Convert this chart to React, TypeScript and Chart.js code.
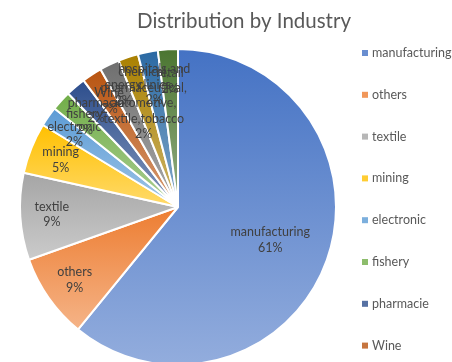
import React, { useEffect, useRef } from 'react';
import { Chart, registerables } from 'chart.js';

Chart.register(...registerables);

const chartTitle = 'Distribution by Industry';
const categories = [
  'manufacturing',
  'others',
  'textile',
  'mining',
  'electronic',
  'fishery',
  'pharmacie',
  'Wine',
  'energy',
  'chemical, pharmaceutical, automotive, textile,tobacco',
  'hospitals and clinics',
  'retail',
];
const values = [60.9, 8.7, 8.9, 5.2, 2.04, 2.04, 2.04, 2.04, 2.04, 2.04, 2.04, 2.04];
const baseColors = [
  '#4472C4',
  '#ED7D31',
  '#A5A5A5',
  '#FFC000',
  '#5B9BD5',
  '#70AD47',
  '#2C4D8C',
  '#B8530F',
  '#6E6E6E',
  '#A98000',
  '#2A69A3',
  '#4A7530',
];

const FONT = 'Lato, "Open Sans", sans-serif';

function mixWhite(hex: string, t: number): string {
  const n = parseInt(hex.slice(1), 16);
  const r = (n >> 16) & 255;
  const g = (n >> 8) & 255;
  const b = n & 255;
  const f = (c: number) => Math.round(c + (255 - c) * t);
  return `rgb(${f(r)},${f(g)},${f(b)})`;
}

export default function App() {
  const ref = useRef<HTMLCanvasElement>(null);

  useEffect(() => {
    const canvas = ref.current;
    if (!canvas) return;
    const total = values.reduce((a, b) => a + b, 0);

    const sectorYRange = (chart: any, i: number) => {
      const area = chart.chartArea;
      const cx = (area.left + area.right) / 2;
      const cy = (area.top + area.bottom) / 2;
      const R = Math.min(area.right - area.left, area.bottom - area.top) / 2;
      let cum = 0;
      for (let k = 0; k < i; k++) cum += values[k];
      const a0 = -Math.PI / 2 + (cum / total) * Math.PI * 2;
      const a1 = a0 + (values[i] / total) * Math.PI * 2;
      const ys = [cy, cy + R * Math.sin(a0), cy + R * Math.sin(a1)];
      for (let k = -1; k <= 4; k++) {
        const t = -Math.PI / 2 + k * Math.PI;
        if (t > a0 && t < a1) ys.push(cy + R * Math.sin(t));
      }
      return [Math.min(...ys), Math.max(...ys)];
    };

    const bg = (ctx: any) => {
      const i = ctx.dataIndex ?? 0;
      const chart = ctx.chart;
      const area = chart.chartArea;
      if (!area) return baseColors[i];
      const [y0, y1] = sectorYRange(chart, i);
      const g = chart.ctx.createLinearGradient(0, y0, 0, Math.max(y1, y0 + 1));
      g.addColorStop(0, mixWhite(baseColors[i], 0.0));
      g.addColorStop(1, mixWhite(baseColors[i], 0.42));
      return g;
    };

    const decor = {
      id: 'excelDecor',
      afterDatasetsDraw(chart: any) {
        const c = chart.ctx;
        const meta = chart.getDatasetMeta(0);
        c.save();
        c.font = `12.5px ${FONT}`;
        c.fillStyle = '#404040';
        c.textAlign = 'center';
        c.textBaseline = 'middle';
        const lh = 15.5;
        meta.data.forEach((arc: any, i: number) => {
          const p = arc.getProps(['x', 'y', 'startAngle', 'endAngle', 'outerRadius'], true);
          const share = values[i] / total;
          const words = categories[i].split(' ');
          const lines: string[] = [];
          let cur = '';
          words.forEach((w) => {
            const test = cur ? cur + ' ' + w : w;
            if (cur && c.measureText(test).width > 100) {
              lines.push(cur);
              cur = w;
            } else cur = test;
          });
          if (cur) lines.push(cur);
          lines.push(Math.round(share * 100) + '%');
          const h = lines.length * lh;
          const R = p.outerRadius;
          const rr = share > 0.5 ? 0.62 * R : Math.min(0.8 * R, R - h / 2 - 10);
          const mid = (p.startAngle + p.endAngle) / 2;
          const lx = p.x + rr * Math.cos(mid);
          const ly = p.y + rr * Math.sin(mid);
          lines.forEach((ln, k) => {
            c.fillText(ln, lx, ly - h / 2 + lh / 2 + k * lh);
          });
        });
        c.restore();
      },
      afterDraw(chart: any) {
        const c = chart.ctx;
        c.save();
        c.font = `20.5px ${FONT}`;
        c.fillStyle = '#595959';
        c.textAlign = 'center';
        c.textBaseline = 'middle';
        c.fillText(chartTitle, 244, 21);
        c.font = `12.5px ${FONT}`;
        c.textAlign = 'left';
        categories.forEach((name, i) => {
          const y = 53 + i * 41.8;
          c.fillStyle = mixWhite(baseColors[i], 0.2);
          c.fillRect(362, y - 3, 6, 6);
          c.fillStyle = '#595959';
          c.fillText(name, 372, y);
        });
        c.restore();
      },
    };

    const chart = new Chart(canvas, {
      type: 'pie',
      data: {
        labels: categories,
        datasets: [
          {
            data: values,
            backgroundColor: bg as any,
            borderColor: '#ffffff',
            borderWidth: 2,
          },
        ],
      },
      options: {
        responsive: false,
        animation: false,
        layout: { padding: { left: 19, top: 48, right: 115, bottom: 34 } },
        plugins: {
          legend: { display: false },
          title: { display: false },
          tooltip: { enabled: false },
        },
      },
      plugins: [decor],
    });
    return () => chart.destroy();
  }, []);

  return (
    <div
      style={{
        position: 'fixed',
        left: 0,
        top: 0,
        width: 452,
        height: 362,
        overflow: 'hidden',
        background: '#ffffff',
      }}
    >
      <canvas ref={ref} width={452} height={400} style={{ display: 'block' }} />
    </div>
  );
}
